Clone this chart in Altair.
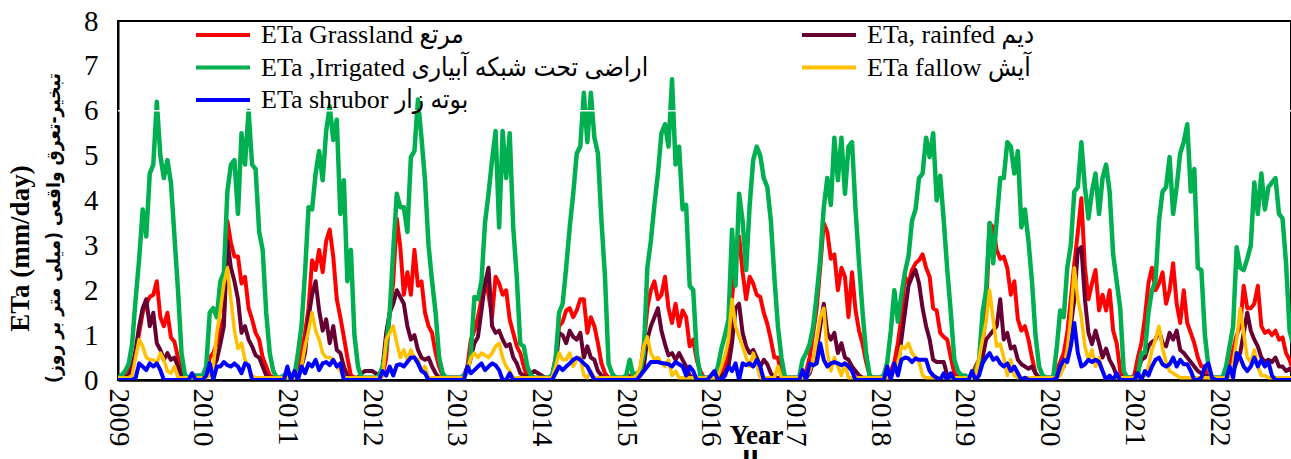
import altair as alt
import pandas as pd

YEARS = list(range(2009, 2023))
STEPS_PER_YEAR = 24  # roughly semi-monthly samples

# ETa Grassland (red) - one list per year
GRASSLAND = [
    [0.05,0.1,0.15,0.25,0.35,0.6,1.05,1.5,1.7,1.85,1.9,2.2,1.4,1.2,1.5,0.95,0.85,0.5,0.2,0.05,0.05,0.05,0.05,0.05],
    [0.05,0.1,0.5,0.6,0.82,1.1,1.4,3.55,3.05,2.75,2.75,2.15,2.3,1.6,1.35,1.05,0.9,0.5,0.3,0.1,0.05,0.05,0.05,0.05],
    [0.05,0.05,0.1,0.3,0.6,1.05,1.6,2.67,2.45,2.9,2.4,3.1,3.35,2.75,1.8,1.4,0.96,0.5,0.1,0.05,0.05,0.05,0.05,0.05],
    [0.05,0.05,0.05,0.1,0.5,1.5,2.2,3.6,2.96,1.9,2.4,1.9,2.9,2.1,2.2,1.5,1.2,1.05,0.6,0.3,0.1,0.05,0.05,0.05],
    [0.05,0.05,0.1,0.3,0.9,1.1,1.4,1.8,2.2,1.9,1.4,2.3,2.15,1.9,2.0,1.35,1.05,0.75,0.6,0.3,0.05,0.05,0.05,0.05],
    [0.05,0.05,0.05,0.1,0.5,1.2,1.3,1.55,1.6,1.4,1.55,1.8,1.8,1.05,1.4,1.2,0.82,0.37,0.15,0.05,0.05,0.05,0.05,0.05],
    [0.05,0.1,0.05,0.05,0.2,0.8,1.6,2.0,2.2,1.8,1.9,2.3,1.6,1.27,1.7,1.2,1.55,1.4,0.75,0.9,0.45,0.2,0.05,0.05],
    [0.05,0.05,0.1,0.15,0.3,0.6,1.8,2.75,3.2,2.4,1.8,2.3,2.15,1.9,1.85,1.5,1.25,0.9,0.5,0.5,0.1,0.05,0.05,0.05],
    [0.05,0.05,0.05,0.2,0.5,1.05,1.6,2.5,3.5,3.3,2.7,2.8,2.0,2.5,2.3,1.4,2.4,1.55,1.1,0.8,0.4,0.1,0.05,0.05],
    [0.05,0.05,0.1,0.2,0.4,0.82,1.4,2.3,2.15,2.45,2.6,2.67,2.8,2.5,2.3,1.6,1.55,1.05,0.96,0.9,0.5,0.15,0.05,0.05],
    [0.05,0.05,0.1,0.3,0.45,0.8,1.5,3.5,3.4,2.9,2.7,2.75,2.5,1.9,2.2,1.35,1.1,1.2,0.9,0.5,0.15,0.05,0.05,0.05],
    [0.05,0.05,0.2,0.4,0.6,1.05,1.8,2.6,3.3,4.05,2.5,1.8,2.15,2.45,1.55,1.9,1.55,2.0,1.1,0.82,0.2,0.05,0.05,0.05],
    [0.1,0.5,0.82,1.4,2.15,2.5,2.0,2.15,2.4,1.7,2.0,2.6,1.7,1.27,2.0,1.27,1.05,0.82,0.5,0.3,0.3,0.1,0.05,0.05],
    [0.05,0.05,0.1,0.3,0.67,1.0,1.2,2.1,1.6,1.6,1.7,2.1,1.2,1.05,1.1,1.0,1.1,0.9,0.95,0.6,0.45,0.2],
]

# ETa rainfed (maroon)
RAINFED = [
    [0.05,0.05,0.05,0.1,0.25,0.67,1.2,1.6,1.8,1.2,1.5,0.82,0.67,0.45,0.6,0.45,0.5,0.3,0.1,0.05,0.05,0.05,0.05,0.05],
    [0.05,0.1,0.2,0.3,0.45,0.8,1.2,3.1,2.5,2.2,1.8,1.05,1.2,0.9,0.75,0.55,0.5,0.3,0.1,0.05,0.05,0.05,0.05,0.05],
    [0.05,0.05,0.05,0.1,0.3,0.6,1.4,1.9,2.2,1.55,1.1,1.35,0.82,1.2,0.67,0.6,0.3,0.1,0.05,0.05,0.05,0.15,0.2,0.2],
    [0.2,0.15,0.1,0.3,1.05,1.5,1.7,2.0,1.85,1.7,1.2,0.9,1.0,0.67,0.5,0.45,0.5,0.3,0.15,0.05,0.05,0.05,0.05,0.05],
    [0.05,0.05,0.05,0.2,0.5,0.82,0.96,1.55,2.15,2.5,1.2,1.05,1.1,0.9,0.75,0.8,0.5,0.37,0.15,0.1,0.05,0.15,0.2,0.15],
    [0.1,0.05,0.05,0.1,0.3,1.05,1.0,0.82,1.1,0.96,0.9,1.05,0.5,0.75,0.5,0.45,0.2,0.1,0.05,0.05,0.05,0.05,0.05,0.05],
    [0.05,0.05,0.05,0.05,0.1,0.3,0.9,1.2,1.4,1.6,1.1,0.8,0.55,0.6,0.45,0.6,0.45,0.3,0.1,0.05,0.05,0.05,0.05,0.05],
    [0.05,0.05,0.05,0.1,0.15,0.3,0.82,1.6,1.7,1.05,0.75,0.6,0.67,0.5,0.3,0.45,0.35,0.15,0.05,0.05,0.05,0.05,0.05,0.05],
    [0.05,0.05,0.05,0.05,0.15,0.4,0.67,1.2,1.7,1.05,0.9,1.05,0.6,0.82,0.5,0.45,0.3,0.2,0.1,0.05,0.05,0.05,0.05,0.05],
    [0.05,0.05,0.05,0.1,0.2,0.3,0.9,1.5,2.1,2.3,2.45,2.15,1.6,1.2,0.9,0.45,0.4,0.4,0.4,0.1,0.05,0.05,0.05,0.05],
    [0.05,0.05,0.05,0.1,0.3,0.5,0.9,1.0,1.1,1.2,1.8,0.9,1.05,0.7,0.75,0.45,0.35,0.3,0.25,0.3,0.15,0.05,0.05,0.05],
    [0.05,0.05,0.1,0.2,0.3,0.6,1.2,1.8,2.9,2.96,1.8,1.05,0.8,1.1,0.82,0.5,0.7,0.45,0.3,0.1,0.05,0.05,0.05,0.05],
    [0.05,0.2,0.45,0.5,0.75,0.85,0.9,1.1,0.82,0.75,1.05,0.9,1.1,0.67,0.6,0.5,0.4,0.3,0.2,0.15,0.1,0.05,0.05,0.05],
    [0.05,0.05,0.05,0.1,0.2,0.4,0.6,1.05,1.5,1.1,0.9,0.75,0.5,0.4,0.45,0.4,0.5,0.3,0.3,0.2,0.25,0.2],
]

# ETa Irrigated (green)
IRRIGATED = [
    [0.05,0.1,0.2,0.35,0.8,1.8,2.7,3.8,3.2,4.6,4.8,6.2,5.0,4.5,4.9,4.4,3.2,2.0,0.6,0.1,0.05,0.05,0.1,0.1],
    [0.1,0.3,1.5,1.6,1.4,2.2,2.4,4.2,4.8,4.9,3.7,5.5,4.8,6.0,4.8,4.7,3.3,2.9,1.5,0.6,0.2,0.05,0.05,0.1],
    [0.05,0.05,0.1,0.6,1.2,2.4,3.85,3.8,4.6,5.1,4.45,5.55,6.1,5.35,5.8,3.7,4.45,2.2,2.9,1.0,0.3,0.05,0.05,0.05],
    [0.05,0.05,0.1,0.3,0.75,1.5,2.9,4.15,3.85,3.85,3.3,4.97,5.1,6.25,5.4,4.45,3.0,2.2,1.5,0.5,0.15,0.05,0.05,0.05],
    [0.05,0.05,0.1,0.2,0.6,1.85,1.8,2.2,3.5,4.15,4.9,5.55,3.4,5.55,4.5,5.5,3.4,2.3,0.8,0.75,0.3,0.1,0.05,0.05],
    [0.05,0.05,0.05,0.1,0.45,1.5,1.7,2.5,3.4,4.15,5.05,5.2,6.4,5.3,6.4,5.4,5.05,3.55,2.3,0.37,0.15,0.05,0.05,0.05],
    [0.1,0.45,0.1,0.15,0.2,0.6,2.5,3.1,3.9,4.6,5.5,5.7,5.2,6.7,4.8,5.2,3.8,3.9,2.1,2.0,0.6,0.1,0.05,0.05],
    [0.05,0.1,0.3,0.7,1.0,1.35,3.35,2.1,4.15,3.55,2.45,3.9,4.9,5.2,5.0,4.5,4.3,3.55,2.3,1.2,0.5,0.05,0.05,0.05],
    [0.05,0.05,0.45,0.6,0.8,1.2,1.9,2.7,3.85,4.5,3.9,5.4,4.45,5.4,4.15,5.2,5.3,3.8,2.6,1.5,0.6,0.1,0.05,0.05],
    [0.05,0.1,0.4,1.1,2.0,1.3,1.9,2.4,2.75,3.55,3.8,4.5,4.6,5.4,4.97,5.5,4.0,4.55,3.55,2.45,1.5,0.45,0.2,0.1],
    [0.1,0.05,0.05,0.2,0.45,1.5,2.0,3.5,2.6,3.55,4.5,4.5,5.3,5.2,4.6,5.1,3.4,3.8,3.1,2.2,1.0,0.3,0.1,0.05],
    [0.05,0.05,0.7,1.55,1.4,2.5,3.0,4.2,4.3,5.3,4.3,3.6,4.2,4.6,3.7,4.5,4.8,4.2,2.8,2.2,1.6,0.2,0.05,0.05],
    [0.05,0.1,0.6,0.6,1.5,2.0,2.2,3.55,4.2,4.3,4.97,3.7,4.3,5.05,5.3,5.7,4.2,4.7,2.5,2.45,1.0,0.3,0.05,0.05],
    [0.05,0.05,0.3,0.75,1.2,2.96,2.5,2.45,2.7,3.0,4.4,3.7,4.6,3.8,4.3,4.4,4.5,3.7,3.6,2.6,1.1,0.8],
]

# ETa fallow (gold)
FALLOW = [
    [0.05,0.05,0.05,0.05,0.1,0.5,0.9,0.75,0.5,0.45,0.45,0.37,0.6,0.45,0.2,0.15,0.3,0.05,0.05,0.05,0.05,0.05,0.05,0.05],
    [0.05,0.05,0.1,0.3,1.05,1.55,2.15,2.5,1.8,1.1,0.7,0.82,0.45,0.3,0.1,0.05,0.05,0.05,0.05,0.05,0.05,0.05,0.05,0.05],
    [0.05,0.05,0.05,0.1,0.3,0.75,1.1,1.5,1.1,0.9,0.6,0.5,0.5,0.45,0.3,0.2,0.05,0.05,0.05,0.05,0.05,0.05,0.05,0.05],
    [0.05,0.05,0.05,0.1,0.9,1.05,1.2,0.82,0.5,0.67,0.45,0.67,0.5,0.45,0.2,0.3,0.05,0.05,0.05,0.05,0.05,0.05,0.05,0.05],
    [0.05,0.05,0.05,0.2,0.5,0.6,0.5,0.6,0.55,0.5,0.6,0.75,0.82,0.5,0.3,0.2,0.05,0.05,0.05,0.05,0.05,0.05,0.05,0.05],
    [0.05,0.05,0.05,0.05,0.3,0.6,0.45,0.45,0.6,0.3,0.45,0.5,0.1,0.05,0.2,0.05,0.05,0.05,0.05,0.05,0.05,0.05,0.05,0.05],
    [0.05,0.05,0.05,0.1,0.3,0.75,0.96,0.6,0.45,0.5,0.37,0.3,0.45,0.1,0.2,0.05,0.05,0.05,0.05,0.05,0.05,0.05,0.05,0.05],
    [0.05,0.05,0.1,0.3,0.55,0.9,1.8,1.2,0.96,0.75,0.5,0.3,0.6,0.35,0.05,0.05,0.05,0.05,0.05,0.3,0.05,0.05,0.05,0.05],
    [0.05,0.05,0.05,0.05,0.2,0.45,0.9,1.4,1.6,0.6,0.2,0.5,0.3,0.1,0.37,0.05,0.05,0.05,0.05,0.05,0.05,0.05,0.05,0.05],
    [0.05,0.05,0.05,0.05,0.2,0.37,0.75,0.7,0.82,0.6,0.5,0.4,0.1,0.05,0.05,0.05,0.05,0.05,0.05,0.05,0.05,0.05,0.05,0.05],
    [0.05,0.05,0.05,0.1,0.5,0.9,1.3,2.0,1.35,0.75,0.8,0.5,0.1,0.45,0.1,0.05,0.05,0.05,0.05,0.05,0.05,0.05,0.05,0.05],
    [0.05,0.05,0.05,0.1,0.3,0.67,1.4,2.5,1.8,1.4,0.75,0.45,0.67,0.3,0.5,0.2,0.05,0.05,0.05,0.05,0.05,0.05,0.05,0.05],
    [0.05,0.05,0.05,0.1,0.3,0.67,0.9,1.2,0.7,0.4,0.2,0.15,0.1,0.05,0.05,0.05,0.05,0.05,0.05,0.05,0.05,0.05,0.05,0.05],
    [0.05,0.05,0.05,0.1,0.37,0.9,1.6,1.05,0.5,0.4,0.67,0.3,0.1,0.1,0.05,0.05,0.05,0.05,0.05,0.05,0.05,0.05],
]

# ETa shrubland (blue)
SHRUB = [
    [0,0,0,0,0,0.05,0.37,0.3,0.22,0.37,0.3,0.37,0.22,0,0,0,0,0,0,0,0,0.15,0,0],
    [0,0.1,0.37,0,0.3,0.3,0.4,0.33,0.3,0.37,0.3,0.15,0.37,0.33,0,0,0,0,0,0,0,0,0,0],
    [0.3,0,0.2,0,0.3,0.15,0.37,0.3,0.45,0.22,0.37,0.4,0.33,0.45,0.3,0.37,0,0,0,0,0,0,0,0],
    [0,0,0,0.2,0.1,0.3,0.1,0.33,0.35,0.3,0.4,0.5,0.5,0.37,0.2,0.15,0,0,0,0,0,0,0,0],
    [0,0,0,0.3,0.15,0.22,0.3,0.37,0.22,0.3,0.37,0.33,0.22,0,0,0.15,0,0,0,0,0,0,0,0],
    [0,0,0,0,0.15,0.3,0.22,0.3,0.37,0.45,0.5,0.45,0.37,0.3,0.15,0,0,0,0,0,0,0,0,0],
    [0,0,0,0,0.1,0.2,0.3,0.4,0.4,0.4,0.38,0.37,0.35,0.3,0.4,0.35,0.3,0.1,0.3,0.2,0,0,0,0],
    [0.1,0.2,0,0,0.1,0.3,0.2,0.37,0,0.37,0.33,0.37,0.3,0.45,0.3,0,0,0,0,0,0,0,0,0],
    [0,0,0.22,0,0.37,0.33,0.37,0.82,0.45,0.3,0.37,0.4,0.37,0.33,0.37,0.3,0.2,0,0,0,0,0,0,0],
    [0,0,0.3,0,0.37,0.1,0.45,0.5,0.48,0.4,0.48,0.45,0.45,0.45,0.2,0.1,0.05,0,0.15,0,0.15,0,0,0],
    [0,0,0.2,0,0.1,0.37,0.5,0.6,0.45,0.5,0.37,0.3,0.37,0.2,0.3,0.15,0,0.05,0,0,0,0,0,0],
    [0,0,0.05,0.3,0.45,0.4,0.75,1.27,0.6,0.3,0.35,0.45,0.4,0.45,0.4,0.2,0,0.1,0,0.15,0,0,0,0],
    [0,0.15,0,0.2,0.1,0.3,0.45,0.5,0.35,0.3,0.35,0.5,0.3,0.45,0.35,0.35,0.2,0,0,0.05,0.3,0.37,0.05,0],
    [0,0,0,0.3,0.05,0.6,0.5,0.3,0.2,0.3,0.5,0.3,0.45,0.3,0.4,0.1,0,0,0,0,0,0],
]

LBL_GRASS = "ETa Grassland مرتع"
LBL_RAINFED = "ETa, rainfed دیم"
LBL_IRRIG = "ETa ,Irrigated اراضی تحت شبکه آبیاری"
LBL_FALLOW = "ETa fallow آیش"
LBL_SHRUB = "ETa shrubor بوته زار"

# drawing order (later on top)
DRAW = [
    (LBL_GRASS, GRASSLAND, "#FF0000", 4),
    (LBL_RAINFED, RAINFED, "#660033", 4),
    (LBL_IRRIG, IRRIGATED, "#00B050", 4.5),
    (LBL_FALLOW, FALLOW, "#FFC000", 3.5),
    (LBL_SHRUB, SHRUB, "#0000FF", 4),
]
# legend order (filled column by column: 3 rows x 2 columns)
LEGEND_ORDER = [LBL_GRASS, LBL_IRRIG, LBL_SHRUB, LBL_RAINFED, LBL_FALLOW]
COLOR_OF = {d[0]: d[2] for d in DRAW}

Y_TICKS = list(range(0, 9))
X_TITLE = ["Year", "سال"]
Y_TITLE_EN = "ETa (mm/day)"
Y_TITLE_FA = "تبخیر-تعرق واقعی (میلی متر بر روز)"

SERIF = "Liberation Serif, DejaVu Sans Condensed, DejaVu Sans"
FA_FONT = "DejaVu Sans Condensed, DejaVu Sans"

rows = []
for label, series, _, _ in DRAW:
    for year, vals in zip(YEARS, series):
        for i, v in enumerate(vals):
            rows.append({"t": year + i / STEPS_PER_YEAR, "eta": v, "series": label})
df = pd.DataFrame(rows)

x_enc = alt.X(
    "t:Q",
    scale=alt.Scale(domain=[2009, 2022.85], nice=False, zero=False),
    axis=alt.Axis(
        values=YEARS, format="d", labelAngle=90, labelFont=SERIF, labelFontSize=29,
        labelColor="black", labelPadding=8, labelFlush=False, labelOverlap=False,
        ticks=False, tickSize=0, grid=False, domainColor="black", domainWidth=2.5,
        title=X_TITLE, titleFont=SERIF, titleFontSize=27, titleFontWeight="bold",
        titleColor="black", titleX=638, titleY=63, titleBaseline="alphabetic",
        titleAlign="center", titleLineHeight=27,
    ),
)
y_enc = alt.Y(
    "eta:Q",
    scale=alt.Scale(domain=[0, 8], nice=False),
    axis=alt.Axis(
        values=Y_TICKS, labelFont=SERIF, labelFontSize=29, labelColor="black",
        labelPadding=20, labelFlush=False, ticks=False, tickSize=0, grid=False,
        domainColor="black", domainWidth=2,
        title=Y_TITLE_EN, titleFont=SERIF, titleFontSize=27, titleFontWeight="bold",
        titleColor="black", titleAngle=270, titleX=-90, titleY=227,
        titleBaseline="alphabetic", titleAlign="center",
    ),
)
color_enc = alt.Color(
    "series:N",
    scale=alt.Scale(domain=LEGEND_ORDER, range=[COLOR_OF[l] for l in LEGEND_ORDER]),
    legend=alt.Legend(
        title=None, orient="none", legendX=75, legendY=1, columns=2,
        symbolType="M-1,0L4.4,0", symbolSize=400, symbolStrokeWidth=4,
        labelFont=SERIF, labelFontSize=26, labelColor="black", labelLimit=900,
        labelOffset=42, columnPadding=145, rowPadding=6.5, padding=0,
    ),
)

base = alt.Chart(df)
layers = []
for label, _, _, w in DRAW:
    layers.append(
        base.transform_filter(alt.FieldEqualPredicate(field="series", equal=label))
        .mark_line(strokeWidth=w, clip=True, strokeJoin="round")
        .encode(x=x_enc, y=y_enc, color=color_enc)
    )

rule = alt.Chart(pd.DataFrame({"eta": [6]})).mark_rule(color="white", strokeWidth=1.5).encode(y=y_enc)

fa_title = (
    alt.Chart(pd.DataFrame({"txt": [Y_TITLE_FA]}))
    .mark_text(angle=270, font=FA_FONT, fontSize=19, fontWeight="bold", color="black",
               align="center", baseline="middle")
    .encode(text="txt:N", x=alt.value(-64), y=alt.value(207))
)

chart = (
    alt.layer(*layers, rule, fa_title)
    .properties(
        width=1173, height=359,
        padding={"left": 118, "top": 21, "right": 0, "bottom": 79},
        autosize=alt.AutoSizeParams(type="none"),
        background="white",
    )
    .configure_view(stroke="black", strokeWidth=2)
)

chart.save("out.html", embed_options={"renderer": "svg", "actions": False})
